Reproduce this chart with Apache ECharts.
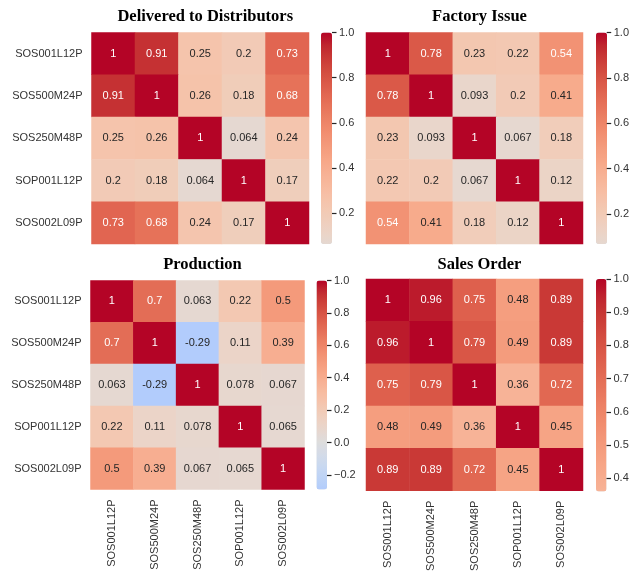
<!DOCTYPE html>
<html>
<head>
<meta charset="utf-8">
<script src="https://cdn.jsdelivr.net/npm/echarts@6/dist/echarts.min.js"></script>
<style>
html,body{margin:0;padding:0;background:#fff;}
#chart{width:632px;height:574px;}
</style>
</head>
<body>
<div id="chart"></div>
<script>
// ---- data ----
const categories = ['SOS001L12P', 'SOS500M24P', 'SOS250M48P', 'SOP001L12P', 'SOS002L09P'];
const titles = ['Delivered to Distributors', 'Factory Issue', 'Production', 'Sales Order'];
const delivered = [
  [1, 0.91, 0.25, 0.2, 0.73],
  [0.91, 1, 0.26, 0.18, 0.68],
  [0.25, 0.26, 1, 0.064, 0.24],
  [0.2, 0.18, 0.064, 1, 0.17],
  [0.73, 0.68, 0.24, 0.17, 1]
];
const factoryIssue = [
  [1, 0.78, 0.23, 0.22, 0.54],
  [0.78, 1, 0.093, 0.2, 0.41],
  [0.23, 0.093, 1, 0.067, 0.18],
  [0.22, 0.2, 0.067, 1, 0.12],
  [0.54, 0.41, 0.18, 0.12, 1]
];
const production = [
  [1, 0.7, 0.063, 0.22, 0.5],
  [0.7, 1, -0.29, 0.11, 0.39],
  [0.063, -0.29, 1, 0.078, 0.067],
  [0.22, 0.11, 0.078, 1, 0.065],
  [0.5, 0.39, 0.067, 0.065, 1]
];
const salesOrder = [
  [1, 0.96, 0.75, 0.48, 0.89],
  [0.96, 1, 0.79, 0.49, 0.89],
  [0.75, 0.79, 1, 0.36, 0.72],
  [0.48, 0.49, 0.36, 1, 0.45],
  [0.89, 0.89, 0.72, 0.45, 1]
];
const ticksDelivered = [0.2, 0.4, 0.6, 0.8, 1.0];
const ticksFactory = [0.2, 0.4, 0.6, 0.8, 1.0];
const ticksProduction = [-0.2, 0.0, 0.2, 0.4, 0.6, 0.8, 1.0];
const ticksSales = [0.4, 0.5, 0.6, 0.7, 0.8, 0.9, 1.0];

const matrices = [delivered, factoryIssue, production, salesOrder];
const tickSets = [ticksDelivered, ticksFactory, ticksProduction, ticksSales];

// ---- coolwarm colormap (Moreland table) ----
const CW = [[59,76,192],[68,90,204],[77,104,215],[87,117,225],[98,130,234],[108,142,241],[119,154,247],[130,165,251],[141,176,254],[152,185,255],[163,194,255],[174,201,253],[184,208,249],[194,213,244],[204,217,238],[213,219,230],[221,221,221],[229,216,209],[236,211,197],[241,204,184],[245,196,172],[247,187,160],[247,177,148],[247,166,135],[244,154,123],[241,141,111],[236,127,99],[229,112,88],[222,96,77],[213,80,66],[203,62,56],[192,40,47],[180,4,38]];
function coolwarm(t) {
  t = Math.max(0, Math.min(1, t));
  const p = t * (CW.length - 1);
  const i = Math.min(Math.floor(p), CW.length - 2);
  const f = p - i;
  return CW[i].map((c, k) => c + (CW[i + 1][k] - c) * f);
}
function toHex(rgb) {
  return '#' + rgb.map(c => Math.round(c).toString(16).padStart(2, '0')).join('');
}
// seaborn centred at 0: value v -> coolwarm((v+1)/2)
function valColor(v) { return coolwarm((v + 1) / 2); }
function lum(rgb) {
  const l = rgb.map(c => { c = c / 255; return c <= 0.03928 ? c / 12.92 : Math.pow((c + 0.055) / 1.055, 2.4); });
  return 0.2126 * l[0] + 0.7152 * l[1] + 0.0722 * l[2];
}

// ---- layout ----
const heat = [
  {left: 91.5, top: 32.5, width: 217.5, height: 211.5},
  {left: 366, top: 32.5, width: 217, height: 211.5},
  {left: 90.5, top: 280.5, width: 214, height: 209},
  {left: 366, top: 279, width: 217, height: 212.5}
];
const bars = [
  {left: 321, top: 32.5, width: 11, height: 211.5},
  {left: 596, top: 32.5, width: 11, height: 211.5},
  {left: 316.5, top: 280.5, width: 10.5, height: 209},
  {left: 596, top: 279, width: 10.5, height: 212.5}
];
const titleY = [3, 3, 251, 251];
const showY = [true, false, true, false];
const showX = [false, false, true, true];

const FONT = "'Liberation Sans', Arial, sans-serif";
const TXT = '#333333';
const fmt = v => (Math.abs(v) < 1e-9 ? 0 : v).toFixed(1).replace('-', '\u2212');

const grid = [], xAxis = [], yAxis = [], series = [], visualMap = [], title = [];

matrices.forEach((m, k) => {
  let mn = Infinity, mx = -Infinity;
  m.forEach(r => r.forEach(v => { mn = Math.min(mn, v); mx = Math.max(mx, v); }));
  const h = heat[k], b = bars[k];
  const ticks = tickSets[k];
  const step = ticks[1] - ticks[0];
  const axisMin = ticks[0] - step;
  const tickCats = [axisMin].concat(ticks);
  const cbHeight = b.height * (mx - axisMin) / (mx - mn);
  grid.push(Object.assign({containLabel: false}, h));
  grid.push({left: b.left, top: b.top, width: b.width, height: cbHeight, containLabel: false});
  const gi = k * 2;
  title.push({
    text: titles[k], left: h.left + h.width / 2, top: titleY[k], textAlign: 'center',
    textStyle: {fontFamily: "'Liberation Serif', 'Times New Roman', serif", fontWeight: 'bold', fontSize: 16.5, color: '#000'}
  });
  xAxis.push({
    type: 'category', gridIndex: gi, data: categories, position: 'bottom',
    axisLine: {show: false}, axisTick: {show: false}, splitLine: {show: false},
    axisLabel: {show: showX[k], rotate: 90, margin: 10, fontSize: 11, fontFamily: FONT, color: TXT}
  });
  yAxis.push({
    type: 'category', gridIndex: gi, data: categories, inverse: true,
    axisLine: {show: false}, axisTick: {show: false}, splitLine: {show: false},
    axisLabel: {show: showY[k], margin: 9, fontSize: 11, fontFamily: FONT, color: TXT}
  });
  // colourbar axis
  xAxis.push({type: 'value', gridIndex: gi + 1, show: false, min: 0, max: 1});
  yAxis.push({
    type: 'category', gridIndex: gi + 1, data: tickCats.map(fmt), boundaryGap: false, position: 'right',
    z: 20,
    axisLine: {show: true, onZero: false, lineStyle: {color: 'rgba(0,0,0,0)', width: 1}}, splitLine: {show: false},
    axisTick: {show: true, inside: false, length: 4.5, lineStyle: {color: '#262626', width: 1.2},
      interval: function (idx) { return idx > 0; }},
    axisLabel: {show: true, margin: 7, fontSize: 11, fontFamily: FONT, color: TXT,
      interval: function (idx) { return idx > 0; }}
  });
  const data = [];
  m.forEach((row, r) => row.forEach((v, c) => {
    const col = valColor(v);
    data.push({value: [c, r, v], label: {color: lum(col) < 0.408 ? '#ffffff' : '#262626'}});
  }));
  series.push({
    type: 'heatmap', xAxisIndex: k * 2, yAxisIndex: k * 2, data: data,
    label: {show: true, fontSize: 11, fontFamily: FONT, formatter: p => String(p.value[2])},
    emphasis: {disabled: true}, progressive: 0
  });
  const stops = [];
  const N = 48;
  for (let i = 0; i <= N; i++) stops.push(toHex(valColor(mn + (mx - mn) * i / N)));
  visualMap.push({
    type: 'continuous', seriesIndex: k, min: mn, max: mx, calculable: false, z: 1,
    orient: 'vertical', left: b.left, top: b.top, itemWidth: b.width, itemHeight: b.height,
    padding: 0, text: null, showLabel: false, inRange: {color: stops}, hoverLink: false,
    indicatorSize: 0, indicatorStyle: {opacity: 0}, handleStyle: {opacity: 0}
  });
});

const chart = echarts.init(document.getElementById('chart'), null, {renderer: 'canvas'});
chart.setOption({
  backgroundColor: '#ffffff', animation: false,
  title, grid, xAxis, yAxis, series, visualMap
});
</script>
</body>
</html>
